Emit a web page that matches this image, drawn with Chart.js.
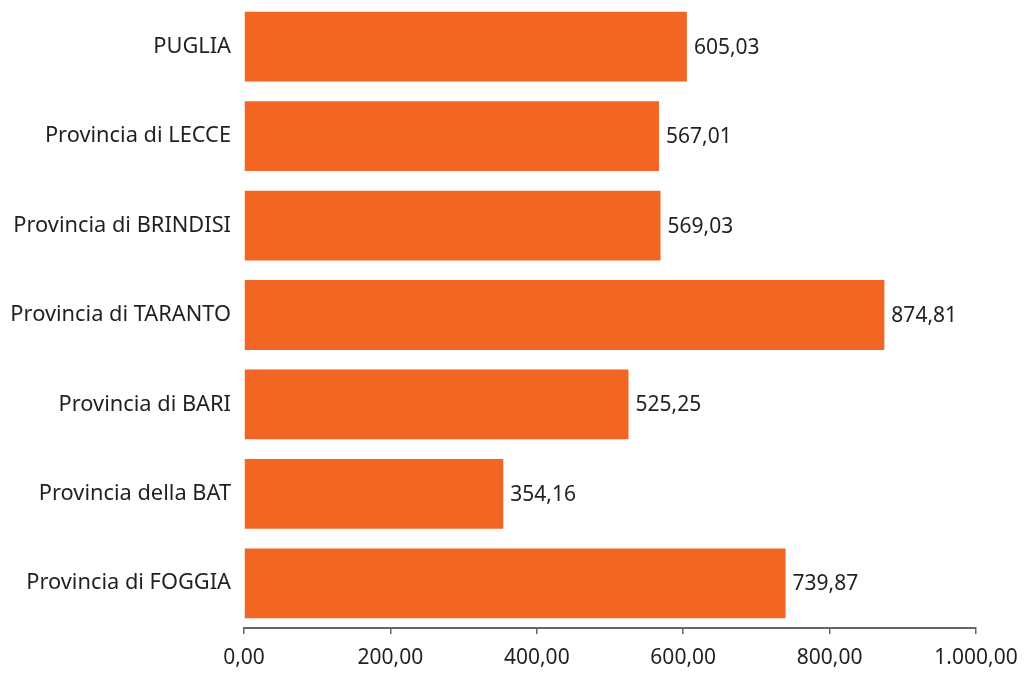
<!DOCTYPE html>
<html><head><meta charset="utf-8">
<script src="https://cdn.jsdelivr.net/npm/chart.js@4/dist/chart.umd.min.js"></script>
<style>html,body{margin:0;padding:0;background:#fff}#wrap{width:1025px;height:673px}</style>
</head><body><div id="wrap"><canvas id="c"></canvas></div>
<script>
const categories = ["PUGLIA","Provincia di LECCE","Provincia di BRINDISI","Provincia di TARANTO","Provincia di BARI","Provincia della BAT","Provincia di FOGGIA"];
const values = [605.03, 567.01, 569.03, 874.81, 525.25, 354.16, 739.87];
const xTicks = [0, 200, 400, 600, 800, 1000];

function fmtIt(v){
  const neg = v < 0; v = Math.abs(v);
  let [i, d] = v.toFixed(2).split('.');
  i = i.replace(/\B(?=(\d{3})+(?!\d))/g, '.');
  return (neg?'-':'') + i + ',' + d;
}
const FONT = "'Noto Sans', sans-serif";
const FS = 21;
const labelPlugin = {
  id:'barLabels',
  afterDatasetsDraw(chart){
    const ctx = chart.ctx;
    const meta = chart.getDatasetMeta(0);
    ctx.save();
    ctx.font = FS + "px " + FONT;
    ctx.fillStyle = '#231f20';
    ctx.textAlign = 'left';
    ctx.textBaseline = 'middle';
    meta.data.forEach((bar, i) => {
      ctx.fillText(fmtIt(values[i]), bar.x + 7, bar.y + 1);
    });
    ctx.restore();
  }
};
new Chart(document.getElementById('c'), {
  type:'bar',
  data:{labels:categories, datasets:[{data:values, backgroundColor:'#F26522', borderWidth:0, categoryPercentage:1, barPercentage:0.78}]},
  options:{
    indexAxis:'y', responsive:true, maintainAspectRatio:false, animation:false,
    layout:{padding:{top:2, right:49, left:0, bottom:0}},
    plugins:{legend:{display:false}, tooltip:{enabled:false}},
    scales:{
      x:{min:0, max:1000, afterBuildTicks(s){ s.ticks = xTicks.map(v=>({value:v})); },
        afterFit(s){ s.height = 45; s.paddingLeft = 0; s.paddingRight = 0; },
        border:{display:true, color:'#666', width:2},
        grid:{drawOnChartArea:false, drawTicks:true, tickLength:6, color:'#666', lineWidth:1.5},
        ticks:{color:'#231f20', font:{family:FONT, size:FS}, padding:11, callback:(v)=>fmtIt(v), maxRotation:0}
      },
      y:{afterFit(s){ s.width = 244; s.paddingTop = 0; s.paddingBottom = 0; },
        border:{display:false}, grid:{display:false, drawTicks:false},
        ticks:{color:'#231f20', font:{family:FONT, size:21.8}, padding:13}
      }
    }
  },
  plugins:[labelPlugin]
});
</script></body></html>
